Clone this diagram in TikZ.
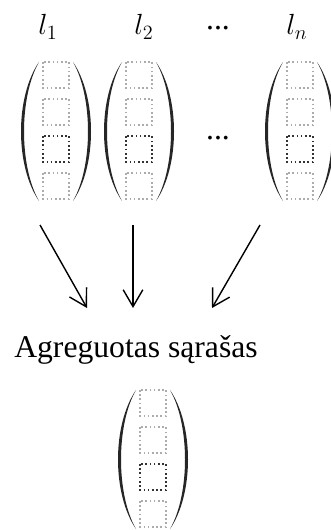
\documentclass[tikz,border=0pt]{standalone}
\usepackage{fontspec}
\setmainfont{Liberation Serif}
\usetikzlibrary{arrows.meta}

\tikzset{
  lbl/.style={font=\fontsize{22.5}{27}\selectfont, inner sep=0pt, anchor=base},
  cell/.style={draw=gray!65, line width=1.2pt, dash pattern=on 1.2pt off 1.8pt},
  darkcell/.style={cell, draw=black!80},
  paren/.style={fill=black!85, draw=none},
  flow/.style={line width=1pt, -{Straight Barb[length=12pt,width=14pt]}}
}

\begin{document}
\begin{tikzpicture}[x=0.025cm, y=-0.025cm]
  \useasboundingbox (0,0) rectangle (330,530);

  % list names
  \node[lbl] (l1) at (48,35) {$l_1$};
  \node[lbl] (l2) at (144,35) {$l_2$};
  \node[lbl] (ldots) at (218,30) {...};
  \node[lbl] (ln) at (297,35) {$l_n$};
  \node[lbl] (mdots) at (218,140) {...};

  % the lists (left edge of cells / top)
  \foreach \cx/\top in {43/62, 126/62, 287/62, 140/390} {
    \foreach \k in {0,1,3}
      \draw[cell] (\cx,{\top+37*\k}) rectangle ({\cx+26},{\top+37*\k+26});
    \draw[darkcell] (\cx,{\top+74}) rectangle ({\cx+26},{\top+100});
    \fill[paren] ({\cx-4},\top) .. controls ({\cx-28},{\top+35}) and ({\cx-28},{\top+104}) .. ({\cx-4},{\top+139})
      .. controls ({\cx-24},{\top+104}) and ({\cx-24},{\top+35}) .. cycle;
    \fill[paren] ({\cx+30},\top) .. controls ({\cx+54},{\top+35}) and ({\cx+54},{\top+104}) .. ({\cx+30},{\top+139})
      .. controls ({\cx+50},{\top+104}) and ({\cx+50},{\top+35}) .. cycle;
  }

  % merging
  \coordinate (s1) at (40,225);  \coordinate (e1) at (87,308);
  \coordinate (s2) at (133,225); \coordinate (e2) at (133,308);
  \coordinate (s3) at (260,225); \coordinate (e3) at (212,308);
  \foreach \i in {1,2,3}
    \draw[flow] (s\i) -- (e\i);

  \node[lbl] (agg) at (136,357) {Agreguotas sąrašas};
\end{tikzpicture}
\end{document}
